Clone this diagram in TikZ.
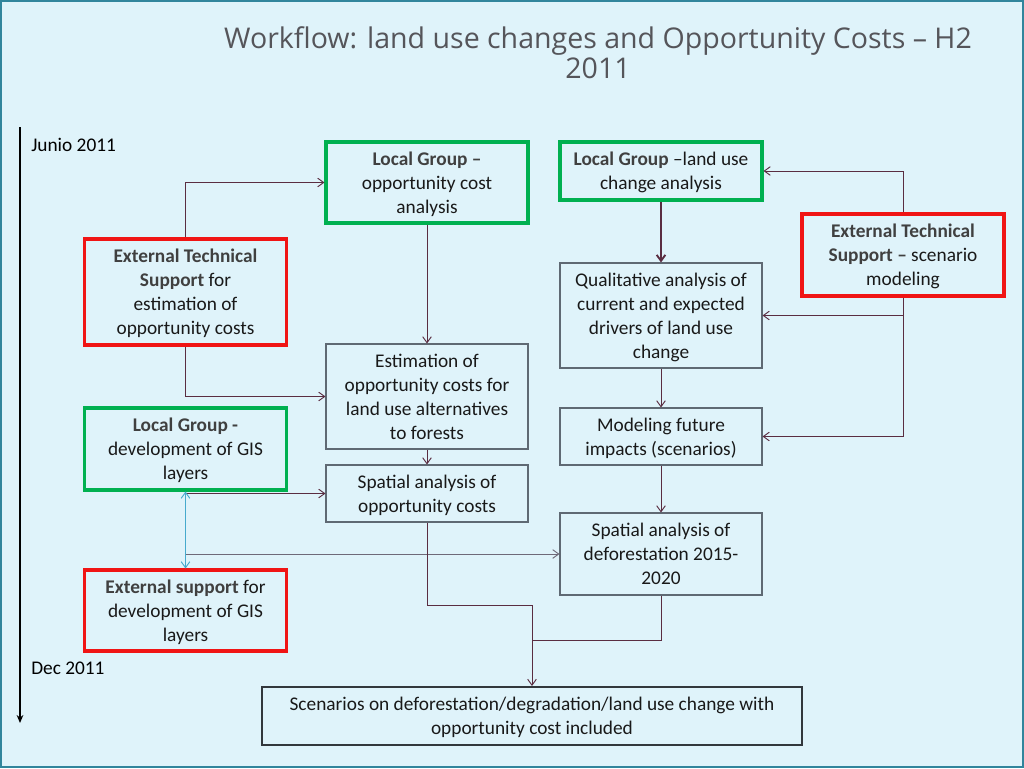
\documentclass[tikz,border=0pt]{standalone}
\usepackage{fontspec}
\setmainfont{Carlito}
\newfontfamily\titlefont{Open Sans}
\usetikzlibrary{arrows.meta}

\definecolor{bgblue}{RGB}{223,243,250}
\definecolor{frameteal}{RGB}{49,133,156}
\definecolor{lggreen}{RGB}{0,176,80}
\definecolor{etred}{RGB}{240,20,20}
\definecolor{boxgray}{RGB}{95,105,115}
\definecolor{scengray}{RGB}{50,55,60}
\definecolor{connred}{RGB}{90,45,65}
\definecolor{linegray}{RGB}{110,105,120}
\definecolor{gisblue}{RGB}{70,170,205}
\definecolor{boldgray}{RGB}{64,64,64}
\definecolor{titlegray}{RGB}{85,85,90}

\newcommand{\bt}[1]{\textcolor{boldgray}{\textbf{#1}}}

\begin{document}
\begin{tikzpicture}[
    x=0.75pt, y=-0.75pt,
    >={Straight Barb[length=4.5pt,width=6.5pt]},
    box/.style={draw=boxgray, line width=0.8pt, align=center, inner sep=2pt,
      minimum width=151.5pt, font=\fontsize{14.5}{18}\selectfont, text=black!90,
      text depth=-1.5pt},
    lg box/.style={box, draw=lggreen, line width=2.3pt},
    et box/.style={box, draw=etred, line width=2.3pt},
    conn/.style={->, draw=connred, line width=0.7pt},
    ]
  \useasboundingbox (0,0) rectangle (1024,768);
  \fill[bgblue] (0,0) rectangle (1024,768);
  \draw[frameteal, line width=1.5pt] (1,1) rectangle (1023,767);

  \node[font=\titlefont\fontsize{21.4}{22.5}\selectfont, text=titlegray, align=center] (title) at (598,53)
    {Workflow: land use changes and Opportunity Costs – H2\\2011};

  % time line
  \coordinate (tstart) at (20,127);
  \coordinate (tend) at (20,723);
  \draw[line width=1.6pt, -{Stealth[length=6pt,width=5pt]}] (tstart) -- (tend);
  \node[anchor=west, inner sep=0pt, font=\fontsize{14.5}{18}\selectfont] (junio) at (31,145) {Junio 2011};
  \node[anchor=west, inner sep=0pt, font=\fontsize{14.5}{18}\selectfont] (dec) at (31,668) {Dec 2011};

  \node[lg box, minimum height=60.75pt] (lgopp) at (427,182.5) {\bt{Local Group –}\\opportunity cost\\analysis};
  \node[lg box, minimum height=43.5pt] (lgland) at (661,171) {\bt{Local Group} –land use\\change analysis};
  \node[et box, minimum height=61.5pt] (extscen) at (903,255) {\bt{External Technical}\\\bt{Support –} scenario\\modeling};
  \node[et box, minimum height=79.5pt] (extopp) at (185.5,292) {\bt{External Technical}\\\bt{Support} for\\estimation of\\opportunity costs};
  \node[box, minimum height=78.75pt] (estim) at (427,396.5) {Estimation of\\opportunity costs for\\land use alternatives\\to forests};
  \node[box, minimum height=78.75pt] (qual) at (661,315.5) {Qualitative analysis of\\current and expected\\drivers of land use\\change};
  \node[box, minimum height=42.75pt] (model) at (661,436.5) {Modeling future\\impacts (scenarios)};
  \node[lg box, minimum height=61.5pt] (gis) at (185.5,449) {\bt{Local Group -}\\development of GIS\\layers};
  \node[box, minimum height=42.75pt] (spopp) at (427,493.5) {Spatial analysis of\\opportunity costs};
  \node[box, minimum height=61.5pt] (spdef) at (661,554) {Spatial analysis of\\deforestation 2015-\\2020};
  \node[et box, minimum height=60.75pt] (extgis) at (185.5,610.5) {\bt{External support} for\\development of GIS\\layers};
  \node[box, draw=scengray, line width=1.5pt, minimum width=405pt, minimum height=43.5pt] (scen) at (532,716)
    {Scenarios on deforestation/degradation/land use change with\\opportunity cost included};

  % opportunity cost branch
  \draw[conn] (extopp.north) |- (lgopp.west);
  \draw[conn] (extopp.south) |- (estim.west);
  \draw[conn] (lgopp.south) -- (estim.north);
  \draw[conn] (estim.south) -- (spopp.north);

  % GIS layers
  \draw[conn] (gis.south) |- (spopp.west);
  \draw[<->, draw=gisblue, line width=0.7pt] (gis.south) -- (extgis.north);
  \coordinate (gisjoin) at (gis.south |- spdef.west);
  \draw[conn, draw=linegray] (gisjoin) -- (spdef.west);

  % land use change branch
  \draw[conn, line width=1.4pt] (lgland.south) -- (qual.north);
  \draw[conn] (qual.south) -- (model.north);
  \draw[conn] (model.south) -- (spdef.north);
  \draw[conn] (extscen.north) |- (lgland.east);
  \draw[conn] (extscen.south) |- (qual.east);
  \draw[conn] (extscen.south) |- (model.east);

  % both branches into the scenarios
  \coordinate (merge) at (532,605);
  \coordinate (defjoin) at (532,640);
  \draw[conn] (spopp.south) |- (merge) -- (scen.north);
  \draw[draw=connred, line width=0.7pt] (spdef.south) |- (defjoin);
\end{tikzpicture}
\end{document}
